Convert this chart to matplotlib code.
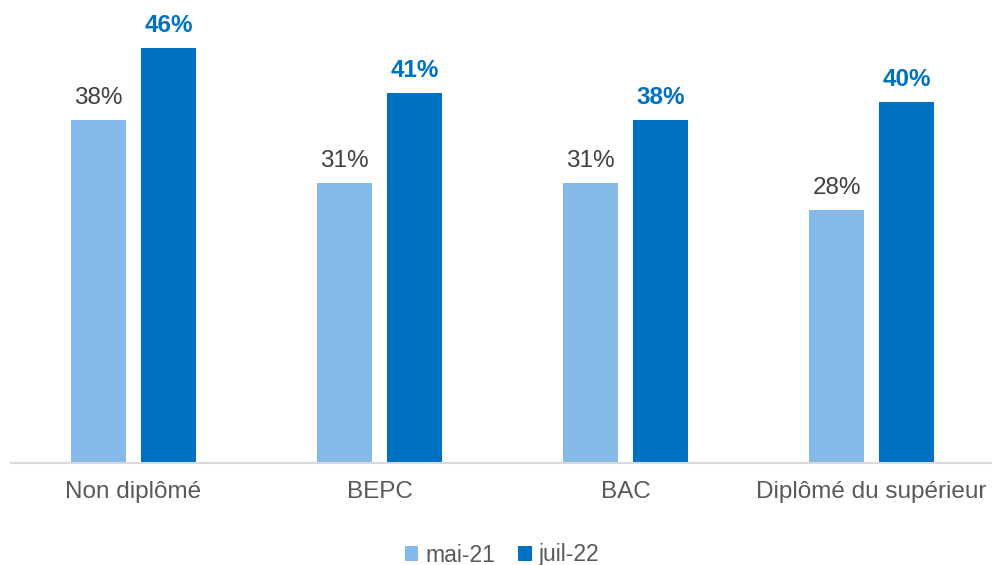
import matplotlib
matplotlib.use("Agg")
import matplotlib.pyplot as plt
import numpy as np

categories = ["Non diplômé", "BEPC", "BAC", "Diplômé du supérieur"]
series_names = ["mai-21", "juil-22"]
mai21 = [38, 31, 31, 28]
juil22 = [46, 41, 38, 40]

light = "#85B9E7"
dark = "#0070C0"

plt.rcParams["font.family"] = ["Liberation Sans", "DejaVu Sans"]

W, H = 992, 565
fig = plt.figure(figsize=(W / 100, H / 100), dpi=100)
ax = fig.add_axes([10.5 / W, (H - 463) / H, 984 / W, 451 / H])

x = np.arange(len(categories))
bw = 55 / 246
off = 35 / 246
b1 = ax.bar(x - off, mai21, bw, color=light, label=series_names[0], zorder=2)
b2 = ax.bar(x + off, juil22, bw, color=dark, label=series_names[1], zorder=2)

for rect, v in zip(b1, mai21):
    ax.annotate(f"{v}%", (rect.get_x() + rect.get_width() / 2, v),
                xytext=(0, 8), textcoords="offset points",
                ha="center", va="bottom", fontsize=17.5, color="#404040")
for rect, v in zip(b2, juil22):
    ax.annotate(f"{v}%", (rect.get_x() + rect.get_width() / 2, v),
                xytext=(0, 8), textcoords="offset points",
                ha="center", va="bottom", fontsize=17.5, color=dark,
                fontweight="bold")

ax.set_xlim(-0.5, len(categories) - 0.5)
ax.set_ylim(0, 50)
ax.set_xticks(x)
ax.set_xticklabels(categories, fontsize=17.5, color="#595959")
ax.tick_params(axis="x", length=0, pad=13)
ax.set_yticks([])
for s in ["top", "left", "right"]:
    ax.spines[s].set_visible(False)
ax.spines["bottom"].set_color("#D9D9D9")
ax.spines["bottom"].set_linewidth(1.5)

fig.legend(handles=[b1, b2], labels=series_names, loc="center",
           bbox_to_anchor=(502 / W, (H - 555) / H), ncol=2, frameon=False,
           fontsize=16.5, handlelength=0.6, handleheight=0.6,
           handletextpad=0.3, columnspacing=1.0, labelcolor="#595959")

fig.savefig("out.png", dpi=100)
